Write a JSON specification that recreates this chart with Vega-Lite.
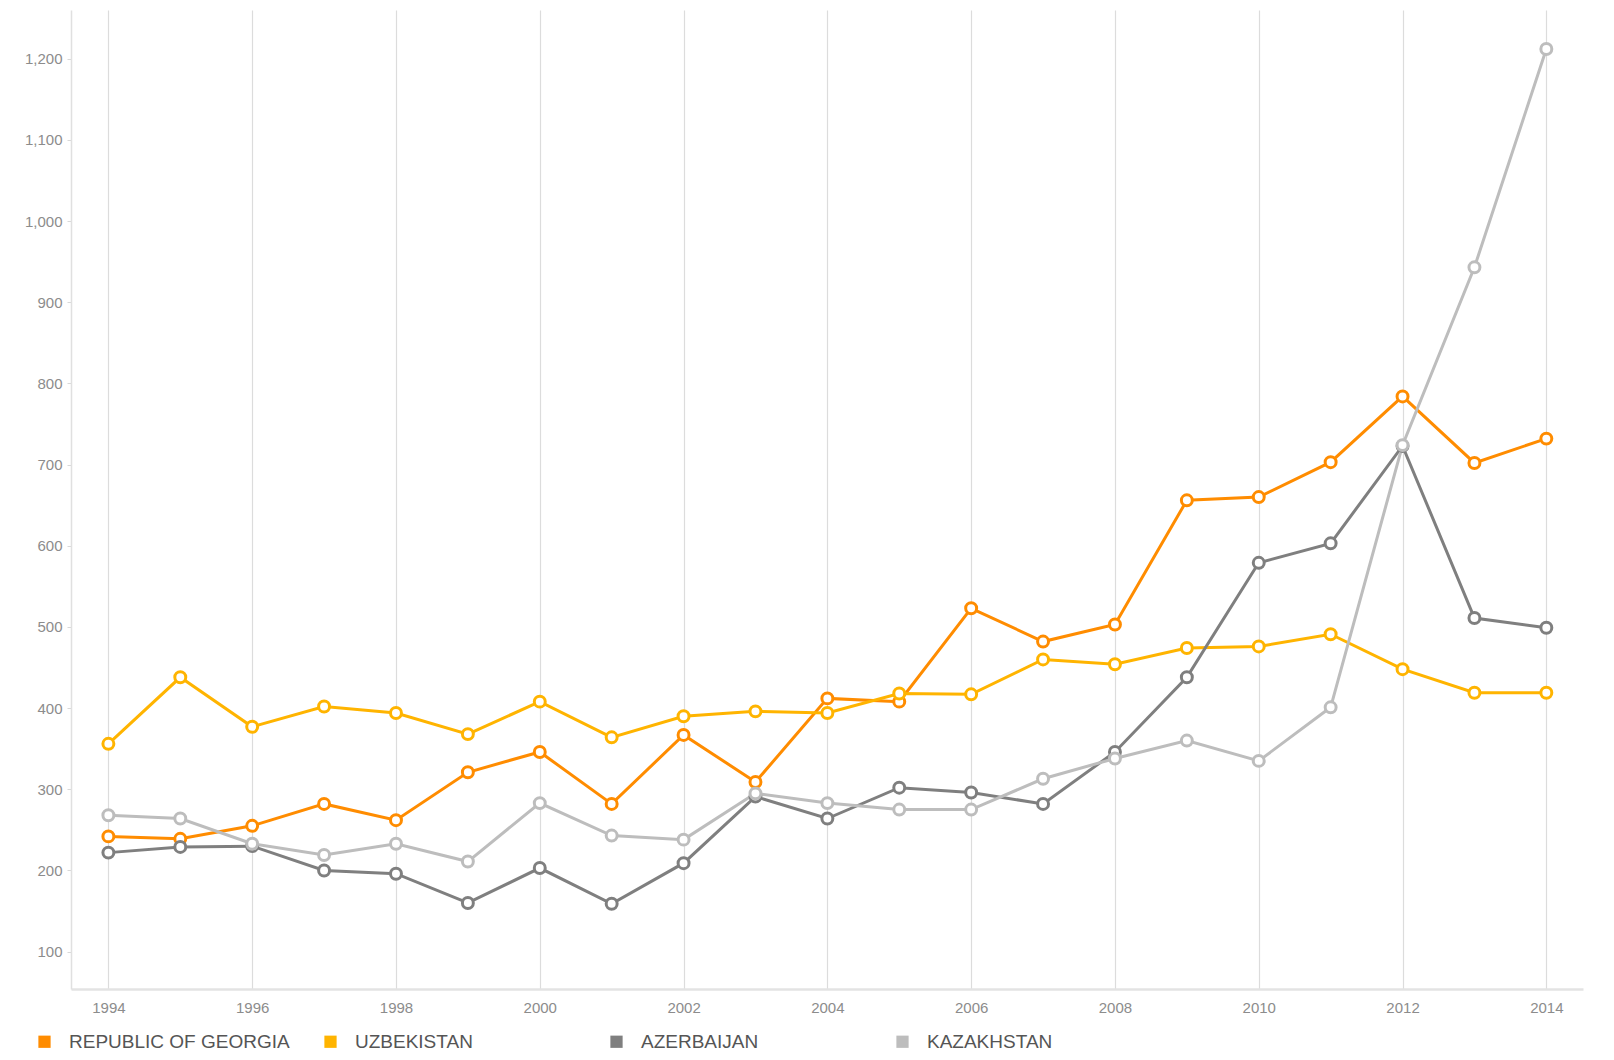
{
  "$schema": "https://vega.github.io/schema/vega-lite/v6.json",
  "width": 1512,
  "height": 979,
  "autosize": {"type": "none"},
  "padding": {"left": 71, "top": 10, "right": 31, "bottom": 71},
  "background": "white",
  "config": {
    "font": "Liberation Sans",
    "view": {"stroke": null}
  },
  "data": {
    "values": [
      {"year": 1994, "country": "REPUBLIC OF GEORGIA", "value": 242},
      {"year": 1995, "country": "REPUBLIC OF GEORGIA", "value": 239},
      {"year": 1996, "country": "REPUBLIC OF GEORGIA", "value": 255},
      {"year": 1997, "country": "REPUBLIC OF GEORGIA", "value": 282},
      {"year": 1998, "country": "REPUBLIC OF GEORGIA", "value": 262},
      {"year": 1999, "country": "REPUBLIC OF GEORGIA", "value": 321},
      {"year": 2000, "country": "REPUBLIC OF GEORGIA", "value": 346},
      {"year": 2001, "country": "REPUBLIC OF GEORGIA", "value": 282},
      {"year": 2002, "country": "REPUBLIC OF GEORGIA", "value": 367},
      {"year": 2003, "country": "REPUBLIC OF GEORGIA", "value": 309},
      {"year": 2004, "country": "REPUBLIC OF GEORGIA", "value": 412},
      {"year": 2005, "country": "REPUBLIC OF GEORGIA", "value": 408},
      {"year": 2006, "country": "REPUBLIC OF GEORGIA", "value": 523},
      {"year": 2007, "country": "REPUBLIC OF GEORGIA", "value": 482},
      {"year": 2008, "country": "REPUBLIC OF GEORGIA", "value": 503},
      {"year": 2009, "country": "REPUBLIC OF GEORGIA", "value": 656},
      {"year": 2010, "country": "REPUBLIC OF GEORGIA", "value": 660},
      {"year": 2011, "country": "REPUBLIC OF GEORGIA", "value": 703},
      {"year": 2012, "country": "REPUBLIC OF GEORGIA", "value": 784},
      {"year": 2013, "country": "REPUBLIC OF GEORGIA", "value": 702},
      {"year": 2014, "country": "REPUBLIC OF GEORGIA", "value": 732},
      {"year": 1994, "country": "UZBEKISTAN", "value": 356},
      {"year": 1995, "country": "UZBEKISTAN", "value": 438},
      {"year": 1996, "country": "UZBEKISTAN", "value": 377},
      {"year": 1997, "country": "UZBEKISTAN", "value": 402},
      {"year": 1998, "country": "UZBEKISTAN", "value": 394},
      {"year": 1999, "country": "UZBEKISTAN", "value": 368},
      {"year": 2000, "country": "UZBEKISTAN", "value": 408},
      {"year": 2001, "country": "UZBEKISTAN", "value": 364},
      {"year": 2002, "country": "UZBEKISTAN", "value": 390},
      {"year": 2003, "country": "UZBEKISTAN", "value": 396},
      {"year": 2004, "country": "UZBEKISTAN", "value": 394},
      {"year": 2005, "country": "UZBEKISTAN", "value": 418},
      {"year": 2006, "country": "UZBEKISTAN", "value": 417},
      {"year": 2007, "country": "UZBEKISTAN", "value": 460},
      {"year": 2008, "country": "UZBEKISTAN", "value": 454},
      {"year": 2009, "country": "UZBEKISTAN", "value": 474},
      {"year": 2010, "country": "UZBEKISTAN", "value": 476},
      {"year": 2011, "country": "UZBEKISTAN", "value": 491},
      {"year": 2012, "country": "UZBEKISTAN", "value": 448},
      {"year": 2013, "country": "UZBEKISTAN", "value": 419},
      {"year": 2014, "country": "UZBEKISTAN", "value": 419},
      {"year": 1994, "country": "AZERBAIJAN", "value": 222},
      {"year": 1995, "country": "AZERBAIJAN", "value": 229},
      {"year": 1996, "country": "AZERBAIJAN", "value": 230},
      {"year": 1997, "country": "AZERBAIJAN", "value": 200},
      {"year": 1998, "country": "AZERBAIJAN", "value": 196},
      {"year": 1999, "country": "AZERBAIJAN", "value": 160},
      {"year": 2000, "country": "AZERBAIJAN", "value": 203},
      {"year": 2001, "country": "AZERBAIJAN", "value": 159},
      {"year": 2002, "country": "AZERBAIJAN", "value": 209},
      {"year": 2003, "country": "AZERBAIJAN", "value": 291},
      {"year": 2004, "country": "AZERBAIJAN", "value": 264},
      {"year": 2005, "country": "AZERBAIJAN", "value": 302},
      {"year": 2006, "country": "AZERBAIJAN", "value": 296},
      {"year": 2007, "country": "AZERBAIJAN", "value": 282},
      {"year": 2008, "country": "AZERBAIJAN", "value": 346},
      {"year": 2009, "country": "AZERBAIJAN", "value": 438},
      {"year": 2010, "country": "AZERBAIJAN", "value": 579},
      {"year": 2011, "country": "AZERBAIJAN", "value": 603},
      {"year": 2012, "country": "AZERBAIJAN", "value": 723},
      {"year": 2013, "country": "AZERBAIJAN", "value": 511},
      {"year": 2014, "country": "AZERBAIJAN", "value": 499},
      {"year": 1994, "country": "KAZAKHSTAN", "value": 268},
      {"year": 1995, "country": "KAZAKHSTAN", "value": 264},
      {"year": 1996, "country": "KAZAKHSTAN", "value": 233},
      {"year": 1997, "country": "KAZAKHSTAN", "value": 219},
      {"year": 1998, "country": "KAZAKHSTAN", "value": 233},
      {"year": 1999, "country": "KAZAKHSTAN", "value": 211},
      {"year": 2000, "country": "KAZAKHSTAN", "value": 283},
      {"year": 2001, "country": "KAZAKHSTAN", "value": 243},
      {"year": 2002, "country": "KAZAKHSTAN", "value": 238},
      {"year": 2003, "country": "KAZAKHSTAN", "value": 295},
      {"year": 2004, "country": "KAZAKHSTAN", "value": 283},
      {"year": 2005, "country": "KAZAKHSTAN", "value": 275},
      {"year": 2006, "country": "KAZAKHSTAN", "value": 275},
      {"year": 2007, "country": "KAZAKHSTAN", "value": 313},
      {"year": 2008, "country": "KAZAKHSTAN", "value": 338},
      {"year": 2009, "country": "KAZAKHSTAN", "value": 360},
      {"year": 2010, "country": "KAZAKHSTAN", "value": 335},
      {"year": 2011, "country": "KAZAKHSTAN", "value": 401},
      {"year": 2012, "country": "KAZAKHSTAN", "value": 724},
      {"year": 2013, "country": "KAZAKHSTAN", "value": 943},
      {"year": 2014, "country": "KAZAKHSTAN", "value": 1212}
    ]
  },
  "encoding": {
    "x": {
      "field": "year",
      "type": "quantitative",
      "scale": {"domain": [1993.48, 2014.51], "nice": false, "zero": false},
      "axis": {
        "title": null,
        "values": [1994, 1996, 1998, 2000, 2002, 2004, 2006, 2008, 2010, 2012, 2014],
        "format": "d",
        "grid": true,
        "gridColor": "#dcdcdc",
        "gridWidth": 1.2,
        "ticks": false,
        "domainColor": "#e3e3e3",
        "domainWidth": 2.5,
        "labelColor": "#8c8c8c",
        "labelFontSize": 15,
        "labelPadding": 11,
        "labelFlush": false
      }
    },
    "y": {
      "field": "value",
      "type": "quantitative",
      "scale": {"domain": [54, 1260], "nice": false, "zero": false},
      "axis": {
        "title": null,
        "values": [100, 200, 300, 400, 500, 600, 700, 800, 900, 1000, 1100, 1200],
        "format": ",d",
        "grid": false,
        "ticks": true,
        "tickSize": 4,
        "tickColor": "#d8d8d8",
        "domainColor": "#e0e0e0",
        "domainWidth": 1.5,
        "labelColor": "#8c8c8c",
        "labelFontSize": 15,
        "labelPadding": 5
      }
    },
    "color": {
      "field": "country",
      "type": "nominal",
      "sort": ["REPUBLIC OF GEORGIA", "UZBEKISTAN", "AZERBAIJAN", "KAZAKHSTAN"],
      "scale": {
        "domain": ["REPUBLIC OF GEORGIA", "UZBEKISTAN", "AZERBAIJAN", "KAZAKHSTAN"],
        "range": ["#FF8C00", "#FFB400", "#7F7F7F", "#BDBDBD"]
      },
      "legend": {
        "title": null,
        "orient": "none",
        "direction": "horizontal",
        "columns": 4,
        "gridAlign": "all",
        "columnPadding": 31,
        "legendX": -36,
        "legendY": 1022,
        "padding": 0,
        "symbolType": "square",
        "symbolSize": 150,
        "labelFontSize": 19,
        "labelColor": "#555555",
        "labelOffset": 15,
        "labelLimit": 400,
        "encode": {
          "symbols": {
            "update": {
              "fill": {"scale": "color", "field": "value"},
              "stroke": {"value": "transparent"},
              "strokeWidth": {"value": 0}
            }
          }
        }
      }
    }
  },
  "layer": [
    {
      "mark": {"type": "line", "strokeWidth": 3}
    },
    {
      "mark": {"type": "point", "shape": "circle", "filled": false, "fill": "white", "fillOpacity": 1, "opacity": 1, "size": 120, "strokeWidth": 3}
    }
  ]
}
